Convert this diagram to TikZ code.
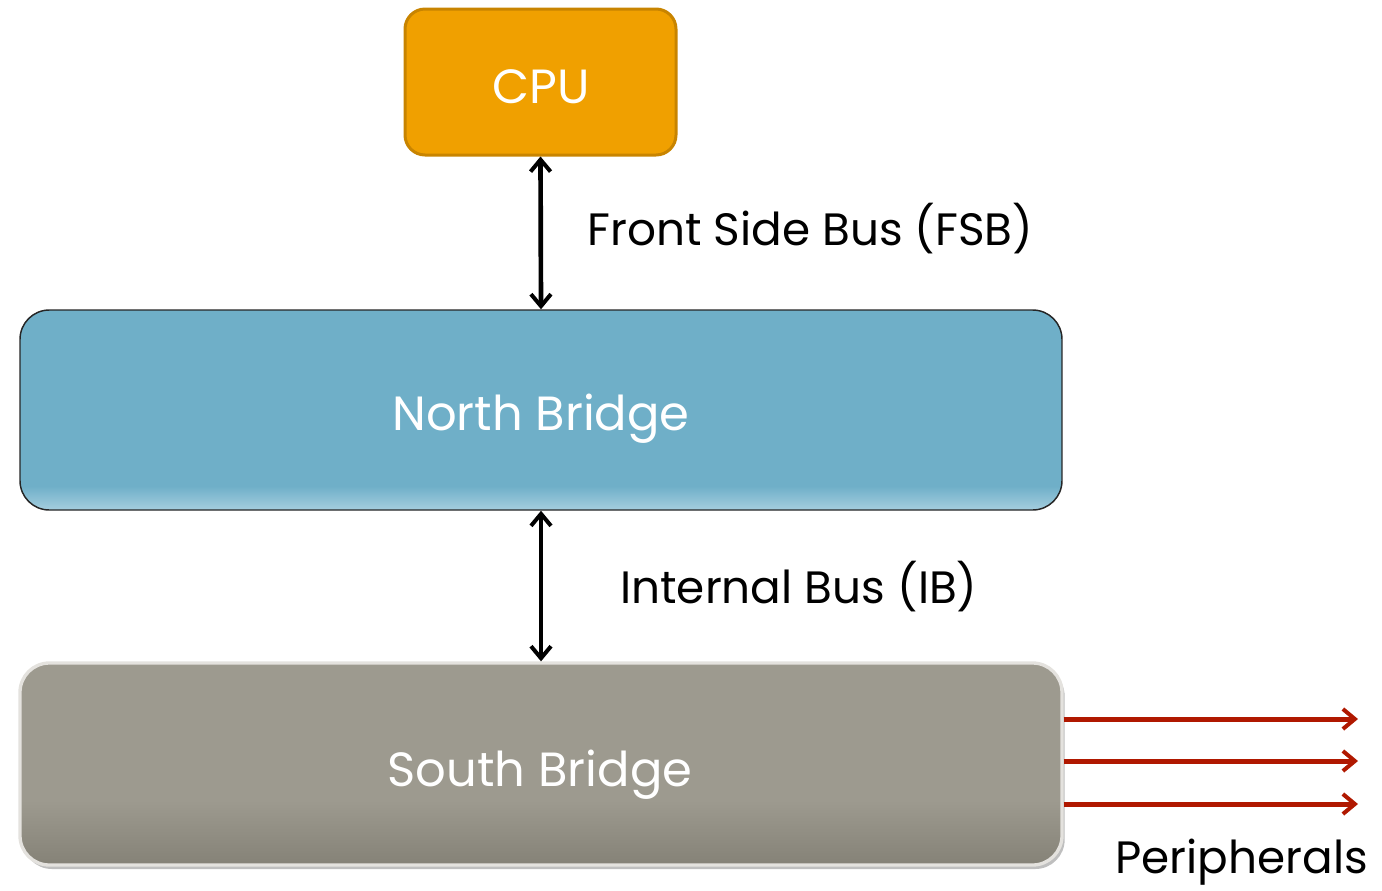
\documentclass[tikz,border=0pt]{standalone}
\usepackage{fontspec}
\setmainfont{Poppins}
\usetikzlibrary{arrows.meta,shadows,calc}
\definecolor{cpuor}{HTML}{F0A000}
\definecolor{cpuedge}{HTML}{C88400}
\definecolor{nbblue}{HTML}{6FAFC8}
\definecolor{nblight}{HTML}{A5CEDF}
\definecolor{sbgray}{HTML}{9D9A8F}
\definecolor{sbdark}{HTML}{858277}
\definecolor{sbedge}{HTML}{E4E2DE}
\definecolor{perred}{HTML}{B01800}
\pgfdeclareverticalshading{nbshade}{100bp}{color(0bp)=(nblight); color(25bp)=(nblight); color(31bp)=(nbblue); color(100bp)=(nbblue)}
\pgfdeclareverticalshading{sbshade}{100bp}{color(0bp)=(sbdark); color(25bp)=(sbdark); color(41bp)=(sbgray); color(100bp)=(sbgray)}
\tikzset{
  lbl/.style={font=\fontsize{34}{36}\selectfont, inner sep=0pt, text=black},
  boxtxt/.style={font=\fontsize{36}{38}\selectfont, inner sep=0pt, text=white},
  barb/.tip={Straight Barb[length=9pt,width=15pt,line width=3pt]},
  bus/.style={line width=3.5pt, {barb}-{barb}},
  perarrow/.style={line width=3.75pt, draw=perred, -{barb}},
}
\begin{document}
\begin{tikzpicture}[x=0.75pt,y=-0.75pt]
\useasboundingbox (0,0) rectangle (1382,890);
% CPU
\node (cpu) [draw=cpuedge, line width=2.25pt, fill=cpuor, rounded corners=15pt,
  minimum width=203.25pt, minimum height=109.5pt, inner sep=0pt] at (540.5,82) {};
\node (cputxt) [boxtxt, anchor=base] at (541,103) {CPU};
% North Bridge
\node (nb) [draw=black!85, line width=1.1pt, shading=nbshade, shading angle=0, rounded corners=22pt,
  minimum width=781.5pt, minimum height=150pt, inner sep=0pt] at (541,410) {};
\node (nbtxt) [boxtxt, anchor=base] at (541,430) {North Bridge};
% South Bridge
\node (sb) [draw=sbedge, line width=2.5pt, shading=sbshade, shading angle=0, rounded corners=22pt,
  minimum width=781.5pt, minimum height=151.5pt, inner sep=0pt,
  drop shadow={shadow xshift=2pt, shadow yshift=-3pt, opacity=0.25, fill=black}] at (541,764) {};
\node (sbtxt) [boxtxt, anchor=base] at (540,786) {South Bridge};
% buses
\draw[bus] (cpu.south) -- (nb.north);
\draw[bus] (nb.south) -- (sb.north);
\node (fsb) [lbl, anchor=base west] at (587,245) {Front Side Bus (FSB)};
\node (ib) [lbl, anchor=base west] at (620,603) {Internal Bus (IB)};
% peripherals
\coordinate (p1) at (1358,719);
\coordinate (p2) at (1358,761);
\coordinate (p3) at (1358,804);
\draw[perarrow] (sb.east |- p1) -- (p1);
\draw[perarrow] (sb.east |- p2) -- (p2);
\draw[perarrow] (sb.east |- p3) -- (p3);
\node (per) [lbl, anchor=base west] at (1115,873) {Peripherals};
\end{tikzpicture}
\end{document}
